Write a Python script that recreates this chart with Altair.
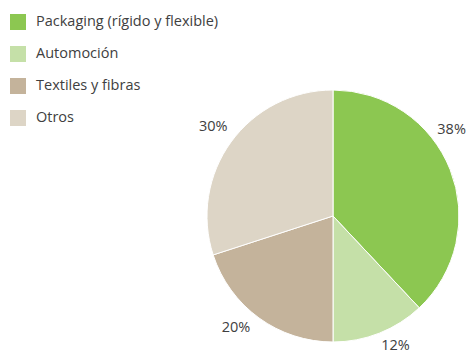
import altair as alt
import pandas as pd

categories = ["Packaging (rígido y flexible)", "Automoción", "Textiles y fibras", "Otros"]
values = [38, 12, 20, 30]
labels = ["38%", "12%", "20%", "30%"]
colors = ["#8cc751", "#c5e0a8", "#c4b39b", "#ddd5c6"]

df = pd.DataFrame({"cat": categories, "val": values, "lab": labels, "ord": list(range(len(categories)))})

theta_scale = alt.Scale(domain=[0, 100], range=[0, 6.283185307179586])

base = alt.Chart(df).transform_window(
    end="sum(val)", sort=[alt.SortField("ord")], frame=[None, 0]
).transform_calculate(start="datum.end - datum.val", mid="datum.end - datum.val / 2")

pie = base.mark_arc(outerRadius=126, stroke="white", strokeWidth=1).encode(
    x=alt.value(325), y=alt.value(208),
    theta=alt.Theta("start:Q", scale=theta_scale),
    theta2="end:Q",
    color=alt.Color(
        "cat:N",
        scale=alt.Scale(domain=categories, range=colors),
        sort=categories,
        legend=alt.Legend(
            title=None, orient="none", legendX=2, legendY=6,
            symbolType="square", symbolSize=256, symbolStrokeWidth=0,
            labelFontSize=14.5, labelFont="Open Sans", labelColor="#404040",
            rowPadding=16, labelOffset=10, symbolOpacity=1, labelLimit=0,
        ),
    ),
)

offsets = [(-19, -32), (8, -8), (-10, -8), (0, -2)]
texts = []
for i, (ddx, ddy) in enumerate(offsets):
    texts.append(
        base.transform_filter(alt.datum.ord == i).mark_text(
            radius=148, fontSize=14.5, font="Open Sans", color="#404040", dx=ddx, dy=ddy
        ).encode(
            x=alt.value(325), y=alt.value(208),
            theta=alt.Theta("mid:Q", scale=theta_scale),
            text="lab:N",
        )
    )

chart = alt.layer(pie, *texts).properties(
    width=460, height=347, padding=0, autosize=alt.AutoSizeParams(type="none")
).configure_view(stroke=None)

chart.save("out.html", embed_options={"renderer": "svg", "actions": False})
